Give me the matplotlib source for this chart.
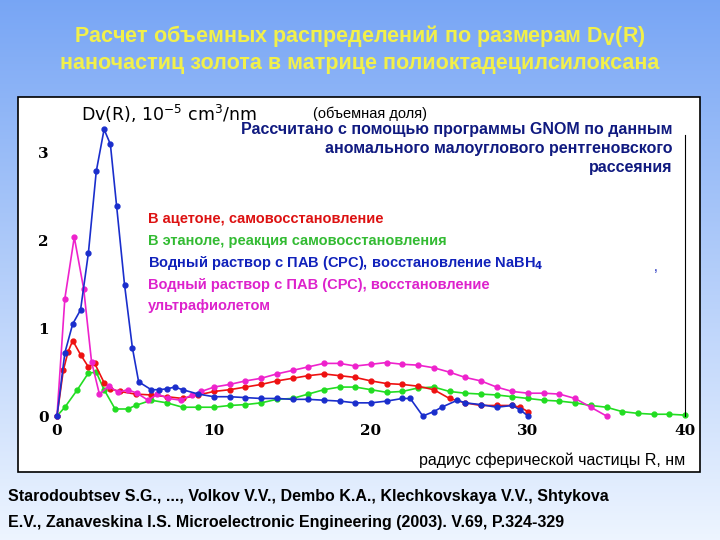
import numpy as np
import matplotlib.pyplot as plt
from matplotlib.patches import Rectangle

plt.rcParams['font.family'] = ['Liberation Sans', 'DejaVu Sans']

# В ацетоне
r_red = [0, 0.4, 0.7, 1.0, 1.5, 2.0, 2.4, 3.0, 3.4, 4, 5, 6, 7, 8, 9, 10, 11, 12, 13, 14, 15,
         16, 17, 18, 19, 20, 21, 22, 23, 24, 25, 26, 27, 28, 29, 29.5, 30]
d_red = [0, 0.52, 0.73, 0.86, 0.70, 0.56, 0.60, 0.38, 0.31, 0.28, 0.25, 0.24, 0.22, 0.20, 0.24,
         0.28, 0.30, 0.33, 0.36, 0.40, 0.43, 0.46, 0.48, 0.46, 0.44, 0.40, 0.37, 0.36, 0.34, 0.30,
         0.20, 0.15, 0.12, 0.12, 0.12, 0.10, 0.05]
# В этаноле
r_green = [0, 0.5, 1.3, 2.0, 2.5, 3.0, 3.7, 4.5, 5, 6, 7, 8, 9, 10, 11, 12, 13, 14, 15, 16, 17,
           18, 19, 20, 21, 22, 23, 24, 25, 26, 27, 28, 29, 30, 31, 32, 33, 34, 35, 36, 37, 38, 39, 40]
d_green = [0, 0.1, 0.3, 0.49, 0.5, 0.3, 0.08, 0.08, 0.12, 0.18, 0.15, 0.10, 0.10, 0.10, 0.12,
           0.13, 0.15, 0.19, 0.20, 0.25, 0.30, 0.33, 0.33, 0.30, 0.27, 0.28, 0.32, 0.33, 0.28,
           0.26, 0.25, 0.24, 0.22, 0.20, 0.18, 0.17, 0.15, 0.12, 0.10, 0.05, 0.03, 0.02, 0.02, 0.01]
# NaBH4
r_blue = [0, 0.5, 1.0, 1.5, 2.0, 2.5, 3.0, 3.4, 3.8, 4.3, 4.8, 5.2, 6, 6.5, 7, 7.5, 8, 9, 10, 11,
          12, 13, 14, 15, 16, 17, 18, 19, 20, 21, 22, 22.5, 23.3, 24, 24.5, 25.5, 26, 27, 28, 29,
          29.5, 30]
d_blue = [0, 0.72, 1.05, 1.21, 1.86, 2.79, 3.27, 3.10, 2.39, 1.50, 0.78, 0.39, 0.30, 0.30, 0.31,
          0.33, 0.30, 0.25, 0.22, 0.22, 0.21, 0.20, 0.20, 0.19, 0.19, 0.18, 0.17, 0.15, 0.15, 0.17,
          0.20, 0.20, 0.0, 0.05, 0.10, 0.18, 0.15, 0.13, 0.10, 0.12, 0.07, 0.0]
# УФ
r_mag = [0, 0.5, 1.1, 1.7, 2.2, 2.7, 3.3, 3.9, 4.5, 5.1, 5.8, 6.4, 7.1, 7.9, 8.6, 9.2, 10, 11, 12,
         13, 14, 15, 16, 17, 18, 19, 20, 21, 22, 23, 24, 25, 26, 27, 28, 29, 30, 31, 32, 33, 34, 35]
d_mag = [0, 1.34, 2.04, 1.45, 0.62, 0.25, 0.34, 0.27, 0.30, 0.26, 0.18, 0.25, 0.20, 0.18, 0.24,
         0.28, 0.33, 0.36, 0.40, 0.43, 0.48, 0.52, 0.56, 0.60, 0.60, 0.57, 0.59, 0.61, 0.59, 0.58,
         0.55, 0.50, 0.44, 0.40, 0.33, 0.28, 0.26, 0.26, 0.25, 0.20, 0.10, 0.0]

W, H = 720, 540
fig = plt.figure(figsize=(7.2, 5.4), dpi=100)

# градиентный фон слайда (сверху темнее)
bg = fig.add_axes([0, 0, 1, 1])
grad = np.linspace(0, 1, 256)[:, None]
top = np.array([0.47, 0.65, 0.96])
bot = np.array([0.93, 0.96, 1.0])
img = top + (bot - top) * grad[..., None]
bg.imshow(np.repeat(img, 2, axis=1), aspect='auto', extent=[0, 1, 0, 1], origin='upper')
bg.set_xlim(0, 1); bg.set_ylim(0, 1); bg.axis('off')
bg.add_patch(Rectangle((18 / W, 1 - 472 / H), 682 / W, 375 / H,
                       facecolor='white', edgecolor='black', lw=1.2))

tkw = dict(ha='center', va='center', color='#f2f04a', fontsize=15.5, fontweight='bold')
fig.text(0.5, 1 - 36 / H, 'Расчет объемных распределений по размерам D$_\\mathbf{V}$(R)', **tkw)
fig.text(0.5, 1 - 64 / H, 'наночастиц золота в матрице полиоктадецилсилоксана', **tkw)
fig.text(8 / W, 1 - 497 / H, 'Starodoubtsev S.G., ..., Volkov V.V., Dembo K.A., Klechkovskaya V.V., Shtykova',
         ha='left', va='center', fontsize=11.5, fontweight='bold')
fig.text(8 / W, 1 - 522 / H, 'E.V., Zanaveskina I.S. Microelectronic Engineering (2003). V.69, P.324-329',
         ha='left', va='center', fontsize=11.5, fontweight='bold')

# оси: x 0..40 -> px 57..685, y 0..3 -> px 416..153
ax = fig.add_axes([57 / W, 1 - 416 / H, 628 / W, 263 / H])
ax.patch.set_alpha(0)
ax.set_xlim(0, 40)
ax.set_ylim(0, 3)
for s in ['top', 'left', 'bottom']:
    ax.spines[s].set_visible(False)
ax.spines['right'].set_bounds(0, 3.2)
ax.set_xticks([0, 10, 20, 30, 40])
ax.set_yticks([0, 1, 2, 3])
ax.tick_params(length=0, labelsize=11, pad=6)
for lab in ax.get_xticklabels() + ax.get_yticklabels():
    lab.set_fontfamily('DejaVu Serif'); lab.set_fontweight('bold')

kw = dict(marker='o', markersize=3.5, lw=1.2, clip_on=False)
ax.plot(r_green, d_green, color='#22dd22', **kw)
ax.plot(r_red, d_red, color='#ee1111', **kw)
ax.plot(r_mag, d_mag, color='#ee22cc', **kw)
ax.plot(r_blue, d_blue, color='#1a2ecc', **kw)

ax.text(1.5, 3.45, 'Dv(R), 10$^{-5}$ cm$^3$/nm', fontsize=12.5, va='center', family='DejaVu Sans')
ax.text(16.3, 3.45, '(объемная доля)', fontsize=10.5, va='center')
ax.text(39.2, 3.05, 'Рассчитано с помощью программы GNOM по данным\nаномального малоуглового рентгеновского\nрассеяния',
        ha='right', va='center', fontsize=11.5, color='#101a80', linespacing=1.35, fontweight='bold')
leg = [('В ацетоне, самовосстановление', '#dd1111'),
       ('В этаноле, реакция самовосстановления', '#33bb33'),
       ('Водный раствор с ПАВ (СРС), восстановление NaBH$_\\mathbf{4}$', '#1122bb'),
       ('Водный раствор с ПАВ (СРС), восстановление', '#dd22cc'),
       ('ультрафиолетом', '#dd22cc')]
for i, (t, c) in enumerate(leg):
    ax.text(5.8, 2.25 - i * 0.25, t, fontsize=10.5, color=c, va='center', fontweight='bold')
ax.text(38, 1.65, ',', fontsize=10, color='#1122bb')
ax.text(40, -0.5, 'радиус сферической частицы R, нм', ha='right', va='center', fontsize=11.5)

fig.savefig('out.png', dpi=100)
